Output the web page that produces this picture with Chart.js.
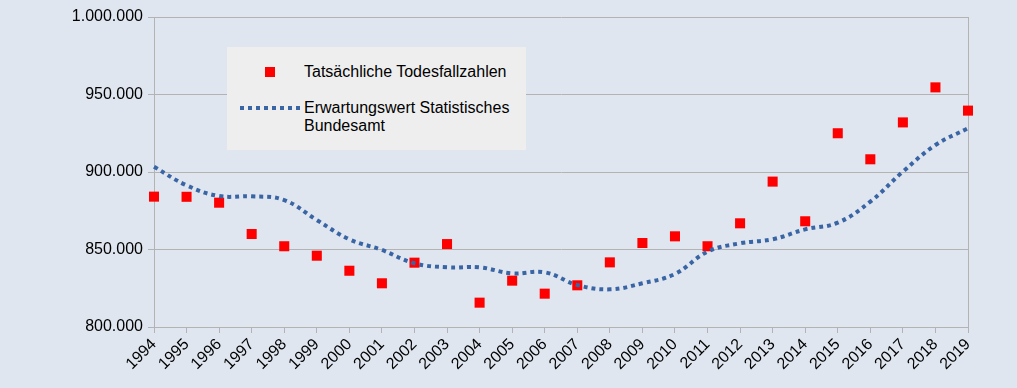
<!DOCTYPE html>
<html>
<head>
<meta charset="utf-8">
<script src="https://cdn.jsdelivr.net/npm/chart.js@4/dist/chart.umd.min.js"></script>
<style>
    body { margin: 0; background: #dfe6ef; font-family: "Liberation Sans", Arial, sans-serif; }
    #wrap { position: relative; width: 1017px; height: 388px; }
    #legend { position: absolute; left: 227px; top: 47px; width: 299px; height: 103px; background: #eeeeee; font-size: 16px; color: #000; }
    #legend .sq { position: absolute; left: 265px; top: 67px; width: 10px; height: 10px; background: #ff0000; }
    #legend .ln { position: absolute; height: 4px; background: repeating-linear-gradient(90deg, #3a65a5 0 4px, transparent 4px 8px); }
    #legend .tx { position: absolute; line-height: 18px; white-space: nowrap; }
</style>
</head>
<body>
<div id="wrap">
    <canvas id="myChart" width="1017" height="388"></canvas>
    <div id="legend">
        <div class="sq" style="left:38px;top:20px"></div>
        <div class="tx" style="left:77px;top:16px">Tatsächliche Todesfallzahlen</div>
        <div class="ln" style="left:13px;top:59px;width:62px"></div>
        <div class="tx" style="left:77px;top:52px">Erwartungswert Statistisches<br>Bundesamt</div>
    </div>
</div>
<script>
const years = ['1994', '1995', '1996', '1997', '1998', '1999', '2000', '2001', '2002', '2003',
    '2004', '2005', '2006', '2007', '2008', '2009', '2010', '2011', '2012', '2013',
    '2014', '2015', '2016', '2017', '2018', '2019'];

// tatsaechliche Todesfaelle
const actualDeaths = [884100, 884000, 880200, 860000, 852100, 846000, 836300, 828200, 841500, 853500,
    815700, 829900, 821500, 826900, 841700, 854200, 858500, 852100, 866900, 893800,
    868200, 925000, 908200, 932000, 954600, 939600];

// Erwartungswert Statistisches Bundesamt
const expectedDeaths = [903400, 891400, 884500, 884300, 881900, 869000, 856600, 849700, 841100, 838500,
    838500, 834600, 835300, 827100, 824300, 828200, 834200, 848600, 854000, 856600,
    863000, 867300, 880900, 900200, 917400, 928200];

const yMin = 800000;
const yMax = 1000000;
const yStep = 50000;

const gridColor = '#b3b3b3';
const tickFont = { family: '"Liberation Sans", Arial, sans-serif', size: 16 };

function formatDe(v) {
    return String(v).replace(/\B(?=(\d{3})+(?!\d))/g, '.');
}

document.addEventListener('DOMContentLoaded', () => {
    const ctx = document.getElementById('myChart').getContext('2d');
    new Chart(ctx, {
        type: 'line',
        data: {
            labels: years,
            datasets: [{
                label: 'Erwartungswert Statistisches Bundesamt',
                data: expectedDeaths,
                borderColor: '#3a65a5',
                borderWidth: 4,
                borderDash: [4, 4],
                borderCapStyle: 'butt',
                tension: 0.4,
                pointRadius: 0,
                fill: false
            }, {
                label: 'Tatsächliche Todesfallzahlen',
                data: actualDeaths,
                showLine: false,
                pointStyle: 'rect',
                pointRadius: 7.1,
                pointHoverRadius: 7.1,
                pointBorderWidth: 0,
                backgroundColor: '#ff0000',
                borderColor: '#ff0000'
            }]
        },
        options: {
            responsive: false,
            animation: false,
            layout: { padding: { left: 0, right: 49, top: 17, bottom: 0 } },
            plugins: {
                legend: { display: false },
                tooltip: { enabled: false }
            },
            scales: {
                x: {
                    offset: false,
                    afterFit: scale => { scale.height = 61; },
                    grid: { drawOnChartArea: false, drawTicks: true, tickLength: 6, color: gridColor },
                    border: { color: gridColor },
                    ticks: {
                        color: '#000',
                        font: tickFont,
                        minRotation: 45,
                        maxRotation: 45,
                        autoSkip: false,
                        padding: 2
                    }
                },
                y: {
                    min: yMin,
                    max: yMax,
                    afterFit: scale => { scale.width = 154; },
                    grid: { color: gridColor, tickLength: 6 },
                    border: { color: gridColor },
                    ticks: {
                        stepSize: yStep,
                        color: '#000',
                        font: tickFont,
                        padding: 5,
                        callback: v => formatDe(v)
                    }
                },
                yRight: {
                    position: 'right',
                    min: yMin,
                    max: yMax,
                    afterFit: scale => { scale.width = 0; },
                    grid: { drawOnChartArea: false, drawTicks: false },
                    border: { color: gridColor },
                    ticks: { display: false }
                }
            }
        }
    });
});
</script>
</body>
</html>
